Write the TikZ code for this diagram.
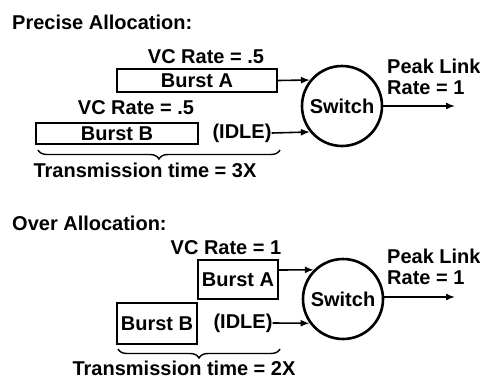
\documentclass[tikz,border=0pt]{standalone}
\usepackage{fontspec}
\setmainfont{Liberation Sans}
\usepackage{tikz}
\usetikzlibrary{arrows.meta,positioning,decorations.pathreplacing}

\begin{document}
\begin{tikzpicture}[
  x=1pt,y=-1pt,
  font=\fontsize{20}{20.5}\selectfont\bfseries,
  box/.style={rectangle,draw=black,line width=1.8pt,inner sep=0pt},
  switch/.style={circle,draw=black,line width=2.6pt,minimum size=80pt,inner sep=0pt},
  lbl/.style={inner sep=0pt},
  arr/.style={-{Latex[length=9pt,width=7pt]},line width=1.6pt},
  brc/.style={decorate,decoration={brace,mirror,amplitude=9pt},line width=1.4pt}
]
\useasboundingbox (0,0) rectangle (480,378);

% precise allocation
\node[lbl,anchor=west] (ptitle) at (12,22) {Precise Allocation:};
\node[box,minimum width=160pt,minimum height=23pt] (pburstA) at (197,80.5) {Burst A};
\node[lbl] (prateA) at (206,57) {VC Rate = .5};
\node[box,minimum width=162pt,minimum height=21pt] (pburstB) at (117,133.5) {Burst B};
\node[lbl] (prateB) at (136,108) {VC Rate = .5};
\node[lbl] (pidle) at (242,133) {(IDLE)};
\node[switch] (psw) at (342,106) {Switch};
\node[lbl,anchor=west,align=left] (ppeak) at (387,77) {Peak Link\\Rate = 1};
\coordinate (pout) at (455,106);
\coordinate (pbl) at (38,150);
\coordinate (pbr) at (280,150);
\node[lbl] (ptime) at (145,170) {Transmission time = 3X};
\draw[arr] (pburstA.east) -- (psw.141);
\draw[arr] (pidle.east) -- (psw.219);
\draw[arr] (psw.east) -- (pout);
\draw[brc] (pbl) -- (pbr);

% over allocation
\node[lbl,anchor=west] (otitle) at (12,223) {Over Allocation:};
\node[box,minimum width=80pt,minimum height=39pt] (oburstA) at (238,279.5) {Burst A};
\node[lbl] (orateA) at (226,248) {VC Rate = 1};
\node[box,minimum width=80pt,minimum height=41pt] (oburstB) at (157,323.5) {Burst B};
\node[lbl] (oidle) at (243,323) {(IDLE)};
\node[switch] (osw) at (343,299) {Switch};
\node[lbl,anchor=west,align=left] (opeak) at (387,267) {Peak Link\\Rate = 1};
\coordinate (oout) at (455,297);
\coordinate (obl) at (118,349);
\coordinate (obr) at (280,349);
\node[lbl] (otime) at (184,368) {Transmission time = 2X};
\draw[arr] (oburstA.east |- 0,270) -- (osw.135);
\draw[arr] (oidle.east) -- (osw.216);
\draw[arr] (osw.east |- oout) -- (oout);
\draw[brc] (obl) -- (obr);
\end{tikzpicture}
\end{document}
